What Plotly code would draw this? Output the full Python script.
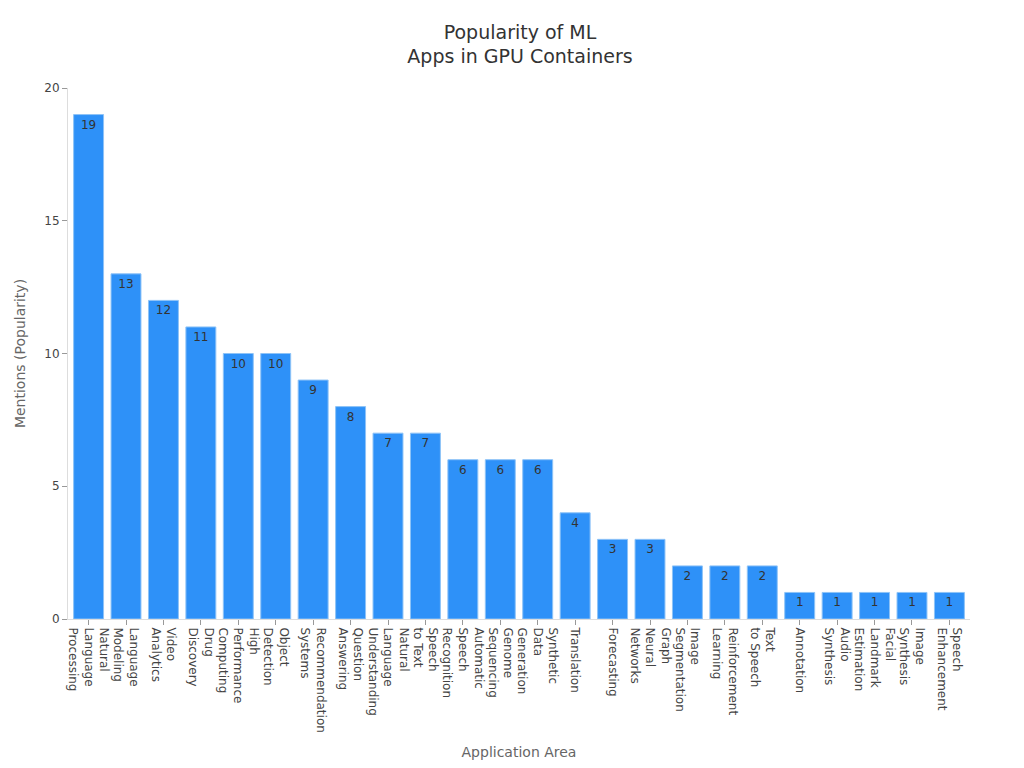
import plotly.graph_objects as go

areas = [
    "Natural<br>Language<br>Processing", "Language<br>Modeling", "Video<br>Analytics",
    "Drug<br>Discovery", "High<br>Performance<br>Computing", "Object<br>Detection",
    "Recommendation<br>Systems", "Question<br>Answering",
    "Natural<br>Language<br>Understanding", "Speech<br>to Text",
    "Automatic<br>Speech<br>Recognition", "Genome<br>Sequencing",
    "Synthetic<br>Data<br>Generation", "Translation", "Forecasting",
    "Graph<br>Neural<br>Networks", "Image<br>Segmentation", "Reinforcement<br>Learning",
    "Text<br>to Speech", "Annotation", "Audio<br>Synthesis",
    "Facial<br>Landmark<br>Estimation", "Image<br>Synthesis", "Speech<br>Enhancement",
]
mentions = [19, 13, 12, 11, 10, 10, 9, 8, 7, 7, 6, 6, 6, 4, 3, 3, 2, 2, 2, 1, 1, 1, 1, 1]

fig = go.Figure(go.Bar(
    x=list(range(len(areas))), y=mentions,
    text=mentions, textposition="inside", insidetextanchor="end",
    textfont=dict(color="#333333", size=12),
    marker=dict(color="#2E91F8", line=dict(color="#8EC3F7", width=1)),
    width=0.8,
))

fig.update_layout(
    width=1024, height=768,
    font=dict(family="DejaVu Sans", color="#444444", size=12),
    title=dict(text="Popularity of ML<br>Apps in GPU Containers", x=0.5, y=0.96,
               font=dict(size=19, color="#333333")),
    plot_bgcolor="white", paper_bgcolor="white",
    margin=dict(l=60, r=62, t=80, b=157),
    showlegend=False,
    xaxis=dict(title=dict(text="Application Area", font=dict(color="#666666", size=14)),
               tickmode="array", tickvals=list(range(len(areas))), ticktext=areas,
               tickangle=90, ticks="outside", ticklen=5, tickcolor="#999999",
               showgrid=False, range=[-0.55, len(areas) - 0.45],
               showline=True, linecolor="#dddddd"),
    yaxis=dict(title=dict(text="Mentions (Popularity)", font=dict(color="#666666", size=14)),
               range=[0, 20], dtick=5, ticks="outside", ticklen=5, tickcolor="#999999",
               showgrid=False, zeroline=False, showline=True, linecolor="#dddddd"),
)

fig.write_html("out.html")
